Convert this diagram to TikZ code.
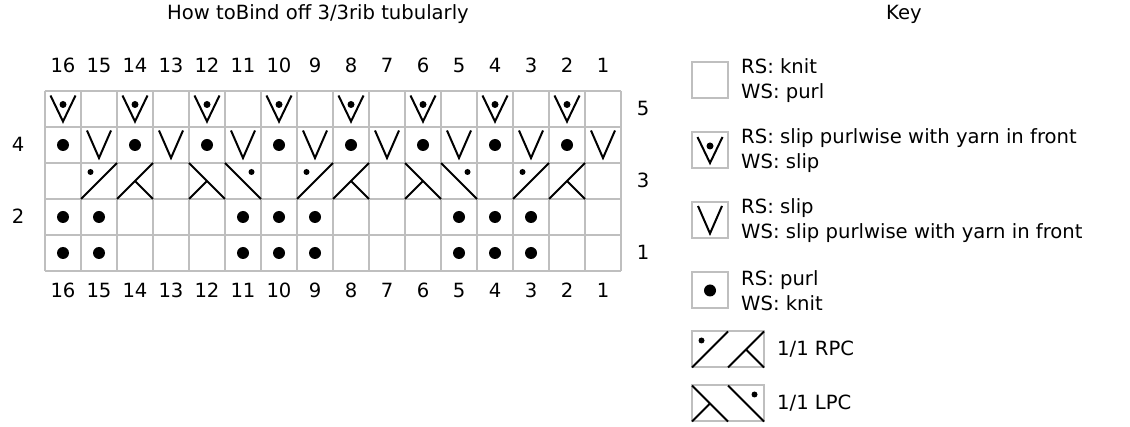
\documentclass[tikz,border=0pt]{standalone}
\usepackage{fontspec}
\setmainfont{DejaVu Sans}
\usetikzlibrary{positioning}

\begin{document}
\begin{tikzpicture}[x=1pt,y=-1pt,
    every node/.style={font=\fontsize{19.6}{24.6}\selectfont, inner sep=0pt},
    gridline/.style={draw=black!25, line width=2pt, line cap=square},
    symline/.style={line width=2pt},
    numlabel/.style={anchor=base},
    keytext/.style={anchor=west, align=left},
    purl/.pic={\fill (18,18) circle (6);},
    slipst/.pic={\draw[symline] (6,3.5) -- (18,31) -- (30,3.5);},
    slipwyif/.pic={\draw[symline] (5.5,4.5) -- (18,30.5) -- (30.5,4.5);
      \fill (18,13.5) circle (3.5);},
    rpc/.pic={\draw[symline] (0,36) -- (36,0) (36,36) -- (72,0) (54,18) -- (72,36);
      \fill (9.5,9) circle (3);},
    lpc/.pic={\draw[symline] (0,0) -- (36,36) (18,18) -- (0,36) (36,0) -- (72,36);
      \fill (62.5,9) circle (3);}
  ]
  \useasboundingbox (0,0) rectangle (1130,427);

  % titles
  \node[numlabel] (title) at (318,20) {How toBind off 3/3rib tubularly};
  \node[numlabel] (keytitle) at (904,20) {Key};

  % chart grid
  \foreach \i in {0,...,16}
    \draw[gridline] ({45+\i*36},91) -- ({45+\i*36},271);
  \foreach \j in {0,...,5}
    \draw[gridline] (45,{91+\j*36}) -- (621,{91+\j*36});

  % column and row numbers
  \foreach \c in {1,...,16} {
    \node[numlabel] (top\c) at ({45+(16-\c)*36+18},73) {\c};
    \node[numlabel] (bot\c) at ({45+(16-\c)*36+18},298) {\c};
  }
  \foreach \r in {1,3,5}
    \node[numlabel] (row\r) at (643,{91+(5-\r)*36+25}) {\r};
  \foreach \r in {2,4}
    \node[numlabel] (row\r) at (18,{91+(5-\r)*36+25}) {\r};

  % rows 1 and 2
  \foreach \r in {1,2}
    \foreach \c in {16,15,11,10,9,5,4,3}
      \pic at ({45+(16-\c)*36},{91+(5-\r)*36}) {purl};
  % row 3
  \foreach \c in {15,9,3}
    \pic at ({45+(16-\c)*36},163) {rpc};
  \foreach \c in {12,6}
    \pic at ({45+(16-\c)*36},163) {lpc};
  % row 4
  \foreach \c in {2,4,...,16}
    \pic at ({45+(16-\c)*36},127) {purl};
  \foreach \c in {1,3,...,15}
    \pic at ({45+(16-\c)*36},127) {slipst};
  % row 5
  \foreach \c in {2,4,...,16}
    \pic at ({45+(16-\c)*36},91) {slipwyif};

  % key
  \draw[gridline] (692,62.5) rectangle ++(36,36);
  \node[keytext] (keyknit) at (741,80.5) {RS: knit\\WS: purl};
  \draw[gridline] (692,132.5) rectangle ++(36,36);
  \pic at (692,132.5) {slipwyif};
  \node[keytext] (keywyif) at (741,150.5) {RS: slip purlwise with yarn in front\\WS: slip};
  \draw[gridline] (692,202.5) rectangle ++(36,36);
  \pic at (692,202.5) {slipst};
  \node[keytext] (keyslip) at (741,220.5) {RS: slip\\WS: slip purlwise with yarn in front};
  \draw[gridline] (692,272.5) rectangle ++(36,36);
  \pic at (692,272.5) {purl};
  \node[keytext] (keypurl) at (741,290.5) {RS: purl\\WS: knit};
  \draw[gridline] (692,331.5) rectangle ++(72,36);
  \pic at (692,331.5) {rpc};
  \node[keytext] (keyrpc) at (777,349.5) {1/1 RPC};
  \draw[gridline] (692,385.5) rectangle ++(72,36);
  \pic at (692,385.5) {lpc};
  \node[keytext] (keylpc) at (777,403.5) {1/1 LPC};
\end{tikzpicture}
\end{document}
